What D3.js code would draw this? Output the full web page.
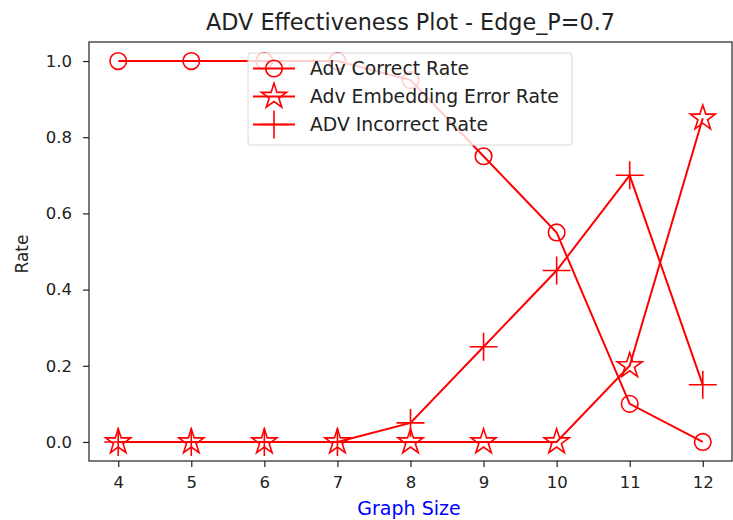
<!DOCTYPE html>
<html>
<head>
<meta charset="utf-8">
<script src="https://cdn.jsdelivr.net/npm/d3@7"></script>
<style>
  html, body { margin: 0; padding: 0; background: #fff; }
  svg { display: block; font-family: "DejaVu Sans", sans-serif; }
</style>
</head>
<body>
<svg id="chart" width="733" height="520"></svg>
<script>
// Graph sizes on the x axis
const graphSizes = [4, 5, 6, 7, 8, 9, 10, 11, 12];
// Rates per graph size
const correctRate   = [1.0, 1.0, 1.0, 1.0, 0.95, 0.75, 0.55, 0.10, 0.00];
const embedErrRate  = [0.0, 0.0, 0.0, 0.0, 0.0, 0.0, 0.0, 0.20, 0.85];
const incorrectRate = [0.0, 0.0, 0.0, 0.0, 0.05, 0.25, 0.45, 0.70, 0.15];
const seriesNames = ["Adv Correct Rate", "Adv Embedding Error Rate", "ADV Incorrect Rate"];
const xTicks = [4, 5, 6, 7, 8, 9, 10, 11, 12];
const yTicks = [0.0, 0.2, 0.4, 0.6, 0.8, 1.0];

const svg = d3.select("#chart");
const mLeft = 89, mRight = 732, mTop = 42, mBottom = 461;
const red = "#ff0000";
const ink = "#222222";

const x = d3.scaleLinear().domain([3.6, 12.4]).range([mLeft, mRight]);
const y = d3.scaleLinear().domain([-0.05, 1.05]).range([mBottom, mTop]);

// Marker shapes
function starPath(R) {
  const r = R * 0.381966;
  const pts = [];
  for (let i = 0; i < 10; i++) {
    const a = Math.PI / 2 + i * Math.PI / 5;
    const rad = i % 2 === 0 ? R : r;
    pts.push([rad * Math.cos(a), -rad * Math.sin(a)]);
  }
  return "M" + pts.map(p => p[0].toFixed(2) + "," + p[1].toFixed(2)).join("L") + "Z";
}
function plusPath(h) { return `M${-h},0L${h},0M0,${-h}L0,${h}`; }

const markers = [
  g => g.append("circle").attr("r", 8.3).attr("fill", "none").attr("stroke", red).attr("stroke-width", 1.6),
  g => g.append("path").attr("d", starPath(13.2)).attr("fill", "none").attr("stroke", red).attr("stroke-width", 1.6).attr("stroke-linejoin", "miter"),
  g => g.append("path").attr("d", plusPath(14)).attr("fill", "none").attr("stroke", red).attr("stroke-width", 1.6)
];

const series = [correctRate, embedErrRate, incorrectRate];
const line = d3.line().x(d => x(d[0])).y(d => y(d[1]));

const plot = svg.append("g");
series.forEach((vals, si) => {
  const pts = graphSizes.map((s, i) => [s, vals[i]]);
  plot.append("path").datum(pts).attr("d", line)
    .attr("fill", "none").attr("stroke", red).attr("stroke-width", 2);
  pts.forEach(p => {
    const g = plot.append("g").attr("transform", `translate(${x(p[0])},${y(p[1])})`);
    markers[si](g);
  });
});

// Axes
const xAxis = svg.append("g").attr("transform", `translate(0,${mBottom})`)
  .call(d3.axisBottom(x).tickValues(xTicks).tickSize(6).tickPadding(9).tickFormat(d3.format("d")));
const yAxis = svg.append("g").attr("transform", `translate(${mLeft},0)`)
  .call(d3.axisLeft(y).tickValues(yTicks).tickSize(6).tickPadding(11).tickFormat(d3.format(".1f")));
[xAxis, yAxis].forEach(a => {
  a.select(".domain").remove();
  a.selectAll("text").attr("font-size", 16.5).attr("fill", ink).attr("font-family", "DejaVu Sans");
  a.selectAll("line").attr("stroke", ink).attr("stroke-width", 1.2);
});

// Frame
svg.append("rect").attr("x", mLeft).attr("y", mTop).attr("width", mRight - mLeft).attr("height", mBottom - mTop)
  .attr("fill", "none").attr("stroke", ink).attr("stroke-width", 1.2);

// Legend
const lg = svg.append("g").attr("transform", "translate(248,53)");
lg.append("rect").attr("width", 324).attr("height", 92).attr("rx", 3)
  .attr("fill", "#fff").attr("fill-opacity", 0.8).attr("stroke", "#d8d8d8");
seriesNames.forEach((name, i) => {
  const yy = 15.5 + i * 28;
  lg.append("line").attr("x1", 5).attr("x2", 47).attr("y1", yy).attr("y2", yy)
    .attr("stroke", red).attr("stroke-width", 2);
  markers[i](lg.append("g").attr("transform", `translate(26,${yy})`));
  lg.append("text").attr("x", 62).attr("y", yy).attr("dy", "0.36em")
    .attr("font-size", 18.8).attr("fill", ink).text(name);
});

// Titles
svg.append("text").attr("x", (mLeft + mRight) / 2).attr("y", 30).attr("text-anchor", "middle")
  .attr("font-size", 22.3).attr("fill", ink).text("ADV Effectiveness Plot - Edge_P=0.7");
svg.append("text").attr("x", 409).attr("y", 515).attr("text-anchor", "middle")
  .attr("font-size", 19).attr("fill", "#0000ff").text("Graph Size");
svg.append("text").attr("transform", `translate(28,254) rotate(-90)`)
  .attr("text-anchor", "middle").attr("font-size", 17).attr("fill", ink).text("Rate");
</script>
</body>
</html>
